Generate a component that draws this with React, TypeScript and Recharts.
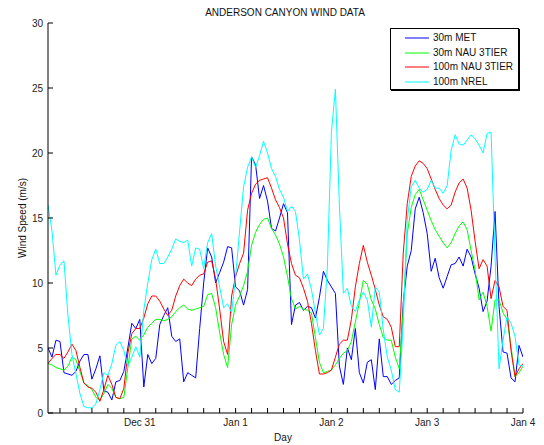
import { LineChart, Line, XAxis, YAxis } from 'recharts';

// hours since Dec 30 00:00
const hours = Array.from({ length: 120 }, (_, i) => i + 1);

const met30 = [
  5.0, 4.3, 5.6, 5.5, 3.1, 3.0, 2.9, 3.2, 4.0, 4.5, 4.5, 2.6, 3.4, 4.4, 1.7, 1.6, 1.0, 2.4, 2.5, 3.2,
  5.0, 6.9, 6.5, 7.2, 2.0, 4.5, 3.8, 4.2, 6.8, 7.5, 8.1, 5.9, 5.5, 5.7, 2.4, 3.1, 2.9, 2.7, 6.5, 10.0,
  12.7, 12.0, 10.0, 10.8, 11.6, 12.8, 12.7, 9.7, 9.4, 8.3, 9.5, 19.7, 19.1, 16.5, 17.5, 16.3, 14.2, 14.0, 15.0, 16.1,
  15.4, 6.8, 8.3, 8.5, 7.9, 8.2, 8.1, 7.3, 8.9, 10.9, 10.2, 9.7, 9.2, 3.6, 2.2, 5.0, 4.1, 6.5, 3.1, 2.3,
  3.9, 4.1, 1.8, 5.7, 2.8, 2.8, 2.2, 2.5, 2.7, 8.5, 11.3, 12.5, 15.7, 16.6, 15.4, 13.8, 10.9, 11.9, 10.4, 9.6,
  10.5, 11.4, 11.5, 12.0, 11.3, 12.6, 12.0, 10.7, 9.6, 7.8, 8.6, 11.3, 15.5, 8.2, 4.7, 4.6, 2.7, 2.4, 5.2, 4.3,
];

const nau30 = [
  3.8, 3.7, 3.5, 3.4, 3.3, 3.6, 4.3, 4.1, 3.2, 2.3, 2.1, 1.8, 1.2, 1.0, 1.5, 2.2, 1.9, 1.2, 1.1, 1.2,
  3.5, 5.7, 5.9, 5.6, 6.0, 6.6, 6.9, 7.2, 7.2, 7.1, 7.2, 7.4, 7.8, 8.1, 8.3, 8.0, 7.9, 8.0, 8.1, 8.2,
  9.1, 9.2, 8.1, 6.2, 4.5, 3.5, 6.8, 8.3, 9.0, 9.8, 10.9, 12.9, 13.9, 14.5, 14.9, 15.0, 14.2, 13.7, 13.0, 12.0,
  10.5, 8.8, 8.0, 8.2, 8.0, 7.9, 7.7, 5.8, 3.9, 3.1, 3.2, 3.3, 3.7, 4.2, 4.6, 4.8, 5.5, 7.0, 8.5, 10.2,
  9.9, 8.7, 8.0, 6.8, 5.8, 5.6, 5.6, 4.3, 3.4, 8.0, 13.8, 15.8, 16.8, 17.2, 16.4, 15.6, 14.8, 14.1, 13.6, 13.1,
  12.7, 13.1, 13.8, 14.4, 14.7, 14.1, 12.5, 11.0, 8.7, 9.3, 8.2, 6.3, 8.7, 8.7, 7.7, 7.2, 5.1, 2.8, 3.1, 3.6,
];

const nau100 = [
  3.8, 4.2, 4.5, 4.5, 4.2, 4.7, 5.3, 4.8, 3.5, 2.3, 2.0, 1.9, 1.6, 0.9, 1.8, 2.9, 2.2, 1.2, 1.1, 1.9,
  4.6, 6.1, 6.5, 6.5, 7.3, 8.4, 9.0, 9.0, 8.6, 8.0, 7.5, 7.9, 9.0, 9.8, 10.3, 10.0, 9.8, 10.3, 10.6, 10.7,
  11.6, 11.7, 10.3, 8.0, 5.5, 4.5, 9.0, 10.5, 11.5, 12.3, 15.6, 16.9, 17.6, 17.9, 18.0, 18.1, 17.3, 16.4, 15.8, 15.0,
  13.0, 11.5, 10.6, 10.4, 9.6, 8.6, 6.9, 4.8, 3.0, 3.0, 3.1, 3.3, 4.3, 5.3, 5.6, 5.6, 7.2, 9.7, 11.5, 12.9,
  11.6, 10.6, 9.5, 8.3, 7.4, 7.2, 6.6, 5.1, 5.1, 12.3, 16.1, 18.2, 19.0, 19.4, 19.2, 18.8, 18.0, 17.2, 16.5, 16.0,
  15.7, 16.0, 17.0, 17.7, 18.0, 17.3, 15.6, 13.2, 11.1, 11.8, 11.3, 8.8, 10.2, 9.7, 8.2, 7.9, 4.8, 2.8, 3.4, 3.8,
];

const nrel100 = [
  16.0, 14.0, 10.6, 11.4, 11.7, 7.5, 4.5, 3.0, 1.5, 0.5, 0.4, 0.4, 0.7, 1.8, 3.1, 2.9, 3.8, 5.2, 5.5, 4.8,
  3.6, 4.3, 5.1, 4.3, 7.9, 10.0, 11.8, 12.6, 11.5, 11.5, 12.0, 12.6, 13.4, 13.2, 13.1, 13.3, 11.3, 12.7, 12.6, 11.1,
  13.1, 13.8, 11.3, 9.7, 8.1, 8.4, 7.7, 10.5, 14.0, 17.4, 18.9, 19.7, 18.9, 19.8, 20.9, 20.0, 18.8, 18.2, 17.2, 16.6,
  15.5, 15.9, 15.5, 13.3, 10.3, 10.7, 9.5, 7.7, 6.0, 6.5, 11.3, 21.6, 24.9, 16.0, 9.2, 9.6, 8.2, 7.8, 8.7, 9.3,
  8.7, 6.6, 9.7, 9.3, 6.4, 4.3, 3.3, 1.8, 1.6, 7.0, 14.8, 17.4, 17.9, 17.3, 17.0, 17.2, 17.9, 17.3, 17.3, 16.9,
  17.5, 20.2, 21.4, 20.7, 20.6, 21.0, 21.4, 21.1, 20.6, 20.0, 21.5, 21.6, 12.0, 3.4, 5.6, 7.4, 6.9, 5.9, 3.7, 3.6,
];

const xTicks = [4, 8, 12, 16, 20, 24, 28, 32, 36, 40, 44, 48, 52, 56, 60, 64, 68, 72, 76, 80, 84, 88, 92, 96, 100, 104, 108, 112, 116, 120];
const dayLabels: Record<number, string> = { 24: 'Dec 31', 48: 'Jan 1', 72: 'Jan 2', 96: 'Jan 3', 120: 'Jan 4' };
const yTicks = [0, 5, 10, 15, 20, 25, 30];

const series = [
  { key: 'met30', name: '30m MET', color: '#0000ff' },
  { key: 'nau30', name: '30m NAU 3TIER', color: '#00ff00' },
  { key: 'nau100', name: '100m NAU 3TIER', color: '#ff0000' },
  { key: 'nrel100', name: '100m NREL', color: '#00ffff' },
];

const data = hours.map((h, i) => ({
  h,
  met30: met30[i],
  nau30: nau30[i],
  nau100: nau100[i],
  nrel100: nrel100[i],
}));

const FONT = '"Liberation Sans", Arial, sans-serif';
const TICK = 5;

function BottomTick({ x, y, payload }: any) {
  const label = dayLabels[payload.value];
  const axisY = y - 4;
  return (
    <g>
      <line x1={x} x2={x} y1={axisY} y2={axisY - TICK} stroke="#000" />
      {label && (
        <text x={x} y={axisY + 13} textAnchor="middle" fontSize={10} fontFamily={FONT} fill="#222">
          {label}
        </text>
      )}
    </g>
  );
}

function TopTick({ x, y }: any) {
  return <line x1={x} x2={x} y1={y} y2={y + TICK} stroke="#000" />;
}

function LeftTick({ x, y, payload }: any) {
  const axisX = x + 5;
  return (
    <g>
      <line x1={axisX} x2={axisX + TICK} y1={y} y2={y} stroke="#000" />
      <text x={axisX - 5} y={y + 4} textAnchor="end" fontSize={10} fontFamily={FONT} fill="#222">
        {payload.value}
      </text>
    </g>
  );
}

function RightTick({ x, y }: any) {
  return <line x1={x} x2={x - TICK} y1={y} y2={y} stroke="#000" />;
}

const textStyle = { fontSize: 10, fontFamily: FONT, color: '#111' };

export default function App() {
  return (
    <div style={{ position: 'relative', width: 528, height: 437, background: '#fff' }}>
      <div style={{ ...textStyle, position: 'absolute', left: 0, width: 554, top: -1, textAlign: 'center', zIndex: 2 }}>
        ANDERSON CANYON WIND DATA
      </div>
      <div
        style={{
          ...textStyle,
          position: 'absolute',
          left: 14,
          top: 210,
          transform: 'translate(-50%, -50%) rotate(-90deg)',
          whiteSpace: 'nowrap',
          zIndex: 2,
        }}
      >
        Wind Speed (m/s)
      </div>
      <div style={{ ...textStyle, position: 'absolute', left: 275, top: 429, transform: 'translate(-50%, -50%)', zIndex: 2 }}>
        Day
      </div>
      <div
        style={{
          position: 'absolute',
          left: 382,
          top: 20,
          width: 129,
          height: 62,
          border: '1px solid #000',
          boxShadow: '1px 1px 0 #000',
          background: '#fff',
          boxSizing: 'border-box',
          paddingTop: 2,
          zIndex: 3,
        }}
      >
        {series.map((s) => (
          <div key={s.key} style={{ display: 'flex', alignItems: 'center', height: 14.5 }}>
            <svg width={42} height={6} style={{ display: 'block' }}>
              <line x1={14} x2={38} y1={3} y2={3} stroke={s.color} strokeWidth={1} />
            </svg>
            <span style={{ ...textStyle, lineHeight: '14px' }}>{s.name}</span>
          </div>
        ))}
      </div>
      <LineChart width={528} height={437} data={data} margin={{ top: 15, right: 13, bottom: 2, left: 10 }}>
        <XAxis
          xAxisId="bottom"
          dataKey="h"
          type="number"
          domain={[1, 120]}
          ticks={xTicks}
          interval={0}
          height={30}
          tickSize={0}
          tickMargin={4}
          axisLine={{ stroke: '#000' }}
          tick={<BottomTick />}
          allowDataOverflow
        />
        <XAxis
          xAxisId="top"
          orientation="top"
          dataKey="h"
          type="number"
          domain={[1, 120]}
          ticks={xTicks}
          interval={0}
          height={0}
          tickSize={0}
          tickMargin={0}
          axisLine={{ stroke: '#000' }}
          tick={<TopTick />}
          allowDataOverflow
        />
        <YAxis
          yAxisId="left"
          domain={[0, 30]}
          ticks={yTicks}
          interval={0}
          width={30}
          tickSize={0}
          tickMargin={5}
          axisLine={{ stroke: '#000' }}
          tick={<LeftTick />}
        />
        <YAxis
          yAxisId="right"
          orientation="right"
          domain={[0, 30]}
          ticks={yTicks}
          interval={0}
          width={0}
          tickSize={0}
          tickMargin={0}
          axisLine={{ stroke: '#000' }}
          tick={<RightTick />}
        />
        {series.map((s) => (
          <Line
            key={s.key}
            xAxisId="bottom"
            yAxisId="left"
            type="linear"
            dataKey={s.key}
            name={s.name}
            stroke={s.color}
            strokeWidth={1}
            dot={false}
            isAnimationActive={false}
          />
        ))}
      </LineChart>
    </div>
  );
}
